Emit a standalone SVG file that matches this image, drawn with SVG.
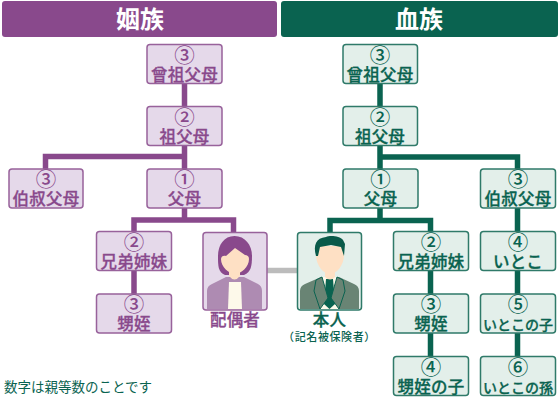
<svg xmlns="http://www.w3.org/2000/svg" width="560" height="403" viewBox="0 0 560 403">
<style>
text{font-family:"Noto Sans CJK JP","Noto Sans",sans-serif;text-anchor:middle}
.p rect,rect.p{fill:#e5d9ea;stroke:#98629b;stroke-width:1.5}
.g rect,rect.g{fill:#e3efea;stroke:#2f7a69;stroke-width:1.5}
.p text{fill:#89498c}
.g text{fill:#0a6350}
.t{font-size:16.500px;font-weight:500;letter-spacing:.2px;stroke-width:.3px}
.p .t{stroke:#89498c}
.g .t{stroke:#0a6350}
.n{font-size:20.500px;font-weight:500}
.h{font-size:24px;font-weight:700;fill:#fff}
.cp,.cg,.cn{fill:none;stroke-width:5.500}
.cp{stroke:#89498c}.cg{stroke:#0a6350}.cn{stroke:#bcbcbc}
.skin{fill:#fee0c4}
</style>
<g id="connectors">
<path class="cn" d="M267 270.500H297"/>
<path class="cp" d="M184.500 83V106M184.500 146V169M184.500 156.500H45.500V169M184.500 208V220M134 231V220H233.500V232M134 270V294"/>
<path class="cg" d="M380 83V106M380 146V169M380 157H517.500V169M380 208V220.500M330 232V220.500H430.500V231M430.500 270V294M430.500 333V356M517.500 208V231M517.500 270V294M517.500 333V356"/>
</g>
<g id="header-in-law"><rect x="2" y="1" width="275" height="36" rx="3" fill="#89498c"/><text class="h" x="140" y="28">姻族</text></g>
<g id="header-blood"><rect x="281" y="1" width="277" height="36" rx="3" fill="#0a6350"/><text class="h" x="419" y="28">血族</text></g>
<g id="p1" class="p"><rect x="147" y="44.500" width="75" height="39" rx="3"/><text class="n" x="184.500" y="62.500">③</text><text class="t" x="184.500" y="80.500">曾祖父母</text></g>
<g id="p2" class="p"><rect x="147" y="106.500" width="75" height="39" rx="3"/><text class="n" x="184.500" y="124.500">②</text><text class="t" x="184.500" y="142.500">祖父母</text></g>
<g id="p3" class="p"><rect x="9" y="169" width="74" height="39" rx="3"/><text class="n" x="46" y="186.500">③</text><text class="t" x="46" y="204.500">伯叔父母</text></g>
<g id="p4" class="p"><rect x="147" y="169" width="75" height="39" rx="3"/><text class="n" x="184.500" y="186.500">①</text><text class="t" x="184.500" y="204.500">父母</text></g>
<g id="p5" class="p"><rect x="96.500" y="231.500" width="75" height="39" rx="3"/><text class="n" x="134" y="249.500">②</text><text class="t" x="134" y="267.500">兄弟姉妹</text></g>
<g id="p6" class="p"><rect x="96.500" y="294" width="75" height="39" rx="3"/><text class="n" x="134" y="311.500">③</text><text class="t" x="134" y="329.500">甥姪</text></g>
<g id="spouse" class="p"><rect x="203" y="232.500" width="64" height="77.500" rx="3"/>
<path d="M207 309V291Q207 286 212 284L226 277H244L258 284Q262 286 262 291V309Z" fill="#ae8bb2"/>
<path d="M229 282H241L242 309H228Z" fill="#fdf9ea"/>
<path d="M234.500 236C224 236 218 245 218 256C218 266 218 272 225 275H244C251 272 252 266 252 256C252 245 245 236 234.500 236Z" fill="#89498c"/>
<path class="skin" d="M229 266H240V276Q234.500 283 229 276Z"/>
<path class="skin" d="M221 259C221 256 224 255 226 256L235 248L245 255C247 255 249 256 249 259C249 267 241 274 235 274C229 274 221 267 221 259Z"/>
<text class="t" x="235" y="325.500">配偶者</text></g>
<g id="self" class="g"><rect x="297.500" y="232.500" width="64" height="77.500" rx="3"/>
<path d="M300 309V291Q300 286 305 284L321 277H339L354 284Q359 286 359 291V309Z" fill="#698474"/>
<path d="M322 277H337L339 309H320Z" fill="#fdf9ea"/>
<path d="M326 279H333L335 304L329.500 309L324 304Z" fill="#0a6350"/>
<path d="M316 280L322 277L328 298L320 309L314 291Z" fill="#698474" stroke="#0a6350" stroke-width="1"/>
<path d="M343 280L337 277L331 298L339 309L345 291Z" fill="#698474" stroke="#0a6350" stroke-width="1"/>
<path class="skin" d="M325 268H335V277Q330 282 325 277Z"/>
<path class="skin" d="M316 255C316 248 319 248 320 246H340C341 248 344 248 344 255C344 266 336 274 330 274C324 274 316 266 316 255Z"/>
<path d="M316 256C313 245 316 238 326 237C330 235 340 236 343 240L345 244L344 256L341 247L331 245L320 247L318 256Z" fill="#0a5a49"/>
<text class="t" x="329.500" y="325.500">本人</text>
<text x="329.500" y="340.500" style="font-size:11px;font-weight:500;letter-spacing:.6px">（記名被保険者）</text></g>
<g id="g1" class="g"><rect x="343" y="44.500" width="74.500" height="39" rx="3"/><text class="n" x="380" y="62.500">③</text><text class="t" x="380" y="80.500">曾祖父母</text></g>
<g id="g2" class="g"><rect x="343" y="106.500" width="74.500" height="39" rx="3"/><text class="n" x="380" y="124.500">②</text><text class="t" x="380" y="142.500">祖父母</text></g>
<g id="g3" class="g"><rect x="343" y="169" width="75" height="39" rx="3"/><text class="n" x="380.500" y="186.500">①</text><text class="t" x="380.500" y="204.500">父母</text></g>
<g id="g4" class="g"><rect x="480.500" y="169" width="75" height="39" rx="3"/><text class="n" x="518" y="186.500">③</text><text class="t" x="518" y="204.500">伯叔父母</text></g>
<g id="g5" class="g"><rect x="393.500" y="231.500" width="75" height="39" rx="3"/><text class="n" x="431" y="249.500">②</text><text class="t" x="431" y="267.500">兄弟姉妹</text></g>
<g id="g6" class="g"><rect x="393.500" y="294" width="75" height="39" rx="3"/><text class="n" x="431" y="311.500">③</text><text class="t" x="431" y="329.500">甥姪</text></g>
<g id="g7" class="g"><rect x="393.500" y="356.500" width="75" height="39" rx="3"/><text class="n" x="431" y="374.500">④</text><text class="t" x="431" y="392.500">甥姪の子</text></g>
<g id="g8" class="g"><rect x="480.500" y="231.500" width="75" height="39" rx="3"/><text class="n" x="518" y="249.500">④</text><text class="t" x="518" y="267.500">いとこ</text></g>
<g id="g9" class="g"><rect x="480.500" y="294" width="75" height="39" rx="3"/><text class="n" x="518" y="311.500">⑤</text><text class="t" x="518" y="329.500" style="font-size:14px;letter-spacing:0">いとこの子</text></g>
<g id="g10" class="g"><rect x="480.500" y="356.500" width="75" height="39" rx="3"/><text class="n" x="518" y="374.500">⑥</text><text class="t" x="518" y="392.500" style="font-size:14px;letter-spacing:0">いとこの孫</text></g>
<text id="note" x="78" y="392" style="font-size:13.500px;fill:#0a6350">数字は親等数のことです</text>
</svg>
